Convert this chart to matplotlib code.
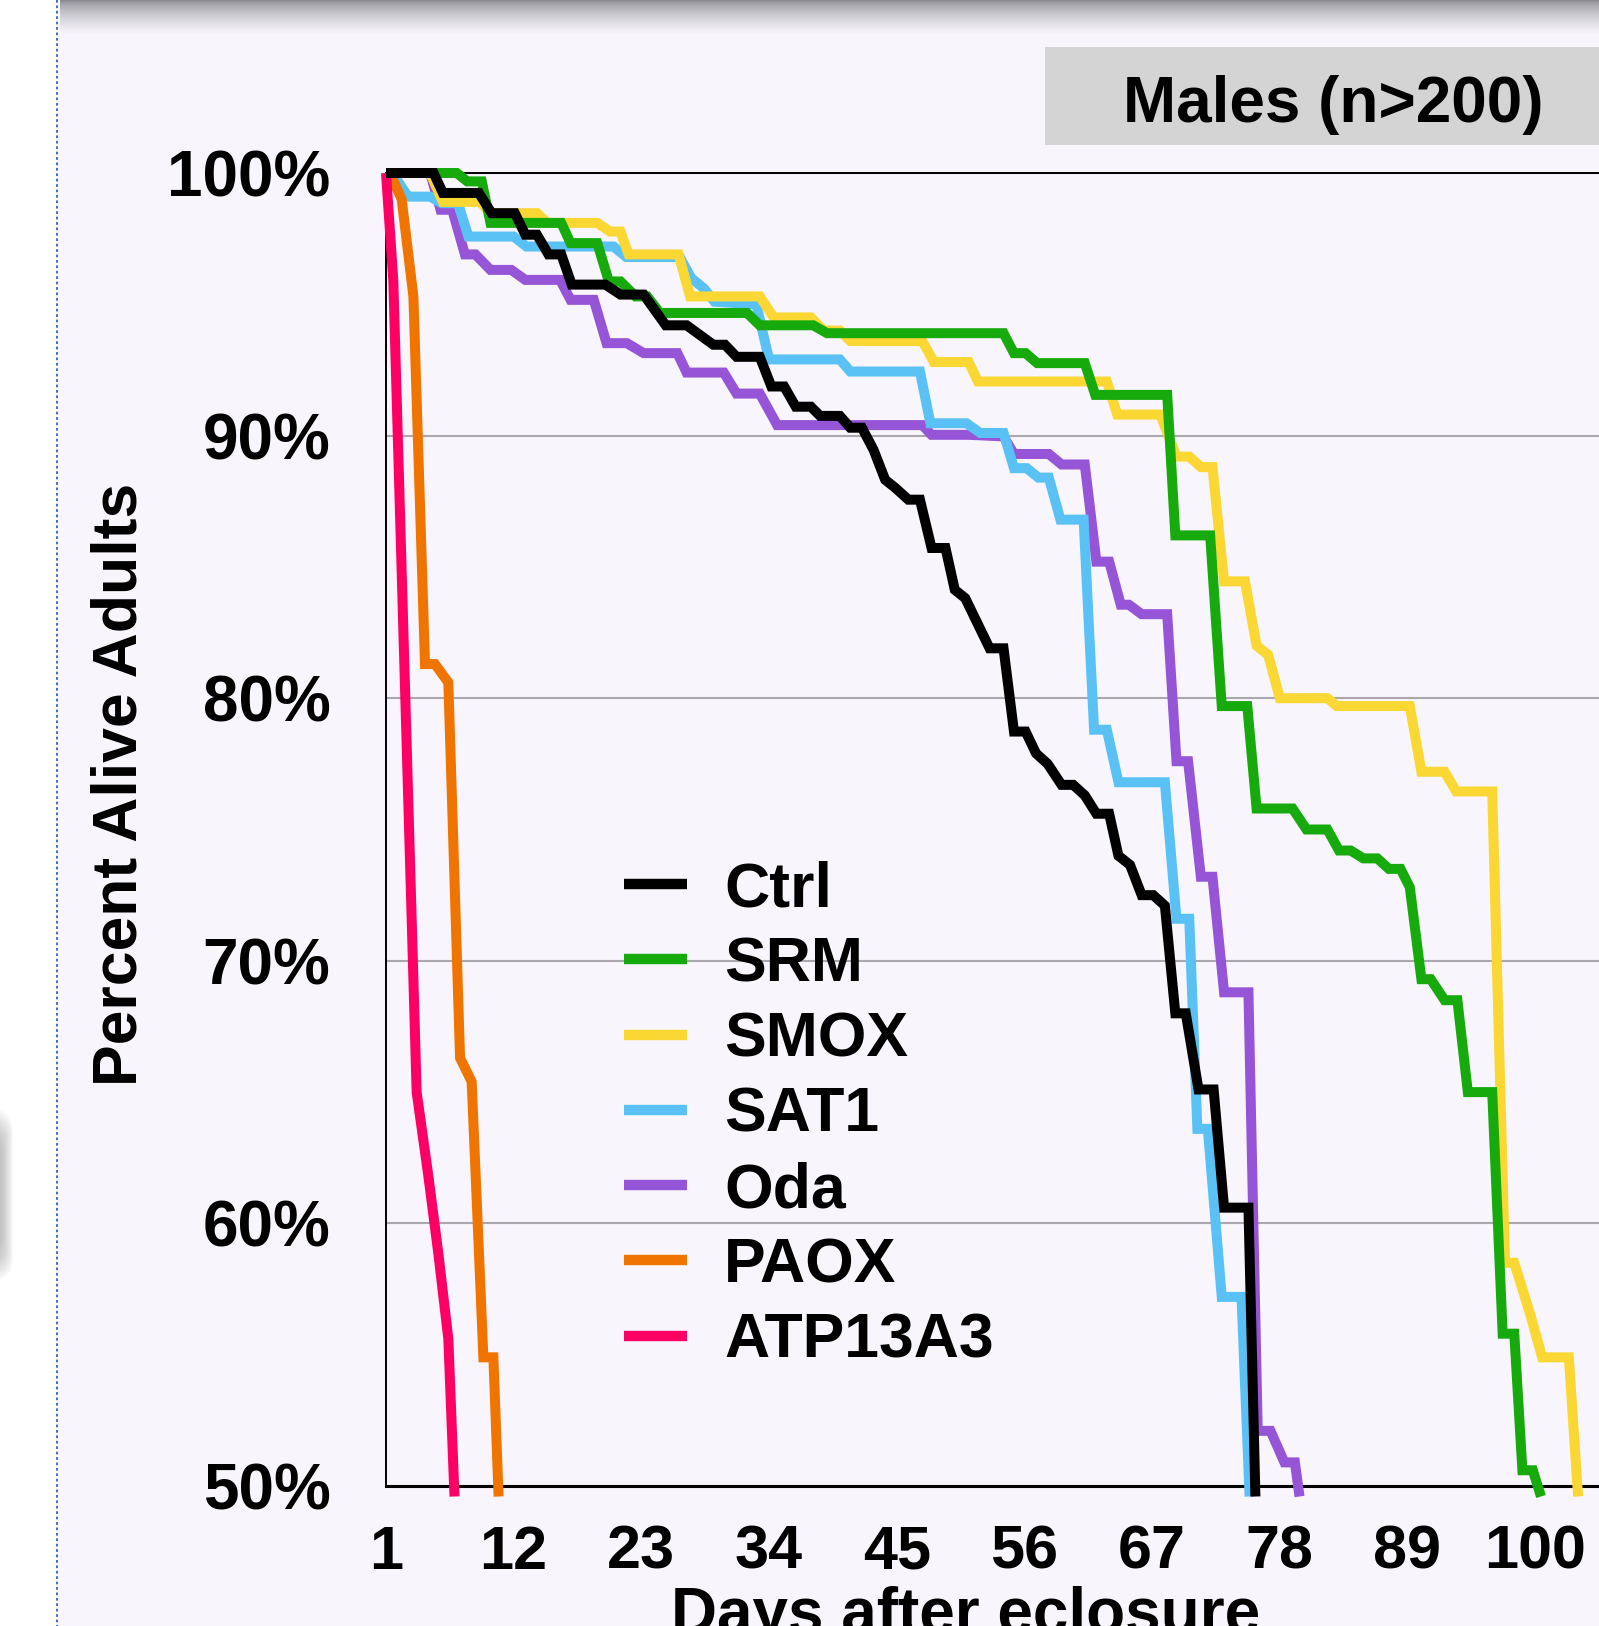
import matplotlib
matplotlib.use("Agg")
import matplotlib.pyplot as plt
import numpy as np
from matplotlib.patches import Rectangle, FancyBboxPatch
from matplotlib.lines import Line2D

plt.rcParams['font.family'] = ['Liberation Sans', 'DejaVu Sans']

# ---------------- data ----------------
series_names = ["Ctrl", "SRM", "SMOX", "SAT1", "Oda", "PAOX", "ATP13A3"]
series_colors = ["#000000", "#17AA0D", "#FAD733", "#5AC1F5", "#9654D6", "#F07400", "#FC0064"]

ctrl_days = [1, 5.1, 5.9, 9.0, 10.1, 12.1, 13.0, 14.0, 15.0, 16.1, 17.0, 19.9, 21.2, 23.2, 25.1, 26.9,
             29.2, 30.2, 31.2, 33.2, 34.2, 35.3, 36.3, 37.6, 38.4, 40.1, 41.0, 42.0, 43.0, 44.0, 44.9,
             46.0, 47.0, 48.0, 49.2, 50.0, 50.9, 51.9, 53.0, 54.2, 55.1, 56.1, 57.0, 58.0, 59.2, 60.2,
             61.2, 62.2, 63.3, 64.1, 65.1, 66.1, 67.1, 68.1, 69.0, 69.9, 71.0, 72.3, 73.2, 75.3, 75.9]
ctrl_pct = [100, 100, 99.24, 99.24, 98.47, 98.47, 97.65, 97.65, 96.9, 96.9, 95.75, 95.75, 95.37, 95.37,
            94.2, 94.2, 93.46, 93.46, 93.0, 93.0, 91.87, 91.87, 91.1, 91.1, 90.75, 90.75, 90.3, 90.3,
            89.46, 88.32, 88.0, 87.56, 87.56, 85.72, 85.72, 84.13, 83.81, 82.9, 81.9, 81.9, 78.73, 78.73,
            77.9, 77.5, 76.7, 76.7, 76.3, 75.6, 75.6, 74.0, 73.65, 72.5, 72.5, 72.1, 68.0, 68.0, 65.1,
            65.1, 60.6, 60.6, 49.6]

srm_days = [1, 7.1, 8.0, 9.25, 10.0, 16.1, 16.9, 19.2, 20.2, 21.2, 22.5, 23.5, 24.6, 32.1, 33.2, 37.8,
            39.0, 54.2, 55.1, 56.1, 57.1, 61.2, 62.1, 68.3, 69.0, 72.0, 73.0, 75.2, 76.0, 79.1, 80.3,
            82.1, 83.1, 84.1, 85.2, 86.4, 87.4, 88.4, 89.2, 90.2, 91.0, 92.2, 93.3, 94.2, 96.3, 97.2,
            98.2, 98.9, 99.8, 100.5]
srm_pct = [100, 100, 99.68, 99.68, 98.1, 98.1, 97.33, 97.33, 95.87, 95.87, 95.3, 95.3, 94.67, 94.67,
           94.2, 94.2, 93.9, 93.9, 93.14, 93.14, 92.76, 92.76, 91.55, 91.55, 86.2, 86.2, 79.7, 79.7,
           75.8, 75.8, 75.0, 75.0, 74.2, 74.2, 73.9, 73.9, 73.5, 73.5, 72.8, 69.3, 69.3, 68.5, 68.5,
           65.0, 65.0, 55.8, 55.8, 50.6, 50.6, 49.6]

smox_days = [1, 4.8, 5.9, 9.1, 10.0, 14.0, 14.9, 19.2, 20.3, 21.2, 21.9, 26.2, 27.2, 33.2, 34.4, 37.6,
             38.7, 40.1, 41.0, 47.2, 48.2, 51.2, 52.0, 63.1, 64.0, 67.7, 69.1, 70.2, 71.2, 72.2, 73.2,
             75.0, 76.0, 77.0, 78.0, 82.1, 82.9, 89.2, 90.2, 92.2, 93.2, 96.3, 97.4, 98.2, 99.6, 100.6,
             102.9, 103.7]
smox_pct = [100, 100, 98.9, 98.9, 98.47, 98.47, 98.1, 98.1, 97.77, 97.77, 96.9, 96.9, 95.3, 95.3, 94.5,
            94.5, 94.0, 94.0, 93.6, 93.6, 92.8, 92.8, 92.06, 92.06, 90.8, 90.8, 89.2, 89.2, 88.8, 88.8,
            84.45, 84.45, 82.0, 81.65, 80.0, 80.0, 79.7, 79.7, 77.2, 77.2, 76.45, 76.45, 58.5, 58.5,
            56.5, 54.9, 54.9, 49.6]

sat1_days = [1, 2.0, 2.9, 4.8, 5.8, 7.2, 8.1, 12.0, 13.1, 20.6, 21.7, 26.3, 27.3, 28.4, 29.3, 32.9, 34.0,
             40.1, 41.0, 47.0, 47.9, 51.0, 52.2, 54.2, 55.1, 56.2, 57.2, 58.1, 59.1, 61.1, 62.0, 63.1,
             64.1, 68.1, 69.1, 70.2, 70.9, 71.8, 73.0, 74.7, 75.4]
sat1_pct = [100, 99.7, 99.1, 99.1, 98.85, 98.85, 97.58, 97.58, 97.2, 97.2, 96.8, 96.8, 96.0, 95.6, 95.1,
            95.0, 92.9, 92.9, 92.44, 92.44, 90.47, 90.47, 90.1, 90.1, 88.76, 88.76, 88.4, 88.4, 86.8,
            86.8, 78.8, 78.8, 76.8, 76.8, 71.6, 71.6, 63.6, 63.6, 57.2, 57.2, 49.6]

oda_days = [1, 4.8, 5.7, 6.7, 7.8, 8.7, 10.0, 11.8, 13.0, 16.0, 16.9, 18.9, 20.0, 21.75, 23.2, 26.1,
            26.9, 30.1, 31.2, 33.2, 34.7, 47.2, 48.0, 51.2, 54.2, 55.1, 58.1, 59.2, 61.2, 62.2, 63.3,
            64.3, 65.0, 66.1, 68.3, 69.1, 70.1, 71.2, 72.2, 73.2, 75.3, 76.1, 77.2, 78.4, 79.3, 79.7]
oda_pct = [100, 100, 98.6, 98.6, 96.9, 96.9, 96.31, 96.31, 95.93, 95.93, 95.17, 95.17, 93.52, 93.52,
           93.14, 93.14, 92.4, 92.4, 91.6, 91.6, 90.4, 90.4, 90.03, 90.03, 89.97, 89.3, 89.3, 88.9,
           88.9, 85.2, 85.2, 83.56, 83.56, 83.2, 83.2, 77.6, 77.6, 73.2, 73.2, 68.8, 68.8, 52.1, 52.1,
           50.9, 50.9, 49.6]

paox_days = [1, 1.34, 2.35, 3.36, 4.36, 5.22, 6.37, 7.38, 8.38, 9.39, 10.25, 10.7]
paox_pct = [100, 100, 99.0, 95.3, 81.3, 81.3, 80.6, 66.3, 65.4, 54.9, 54.9, 49.6]

atp_days = [1, 1.63, 3.64, 4.65, 5.51, 6.37, 6.9]
atp_pct = [100, 95.9, 65.0, 61.8, 58.85, 55.6, 49.6]

all_days = [ctrl_days, srm_days, smox_days, sat1_days, oda_days, paox_days, atp_days]
all_pct = [ctrl_pct, srm_pct, smox_pct, sat1_pct, oda_pct, paox_pct, atp_pct]
z_orders = [10, 7, 6, 5, 4, 8, 9]

x_ticks = [1, 12, 23, 34, 45, 56, 67, 78, 89, 100]
y_ticks = [50, 60, 70, 80, 90, 100]
y_tick_labels = ["50%", "60%", "70%", "80%", "90%", "100%"]

# ---------------- figure ----------------
W, H = 1599, 1626
fig = plt.figure(figsize=(W / 100, H / 100), dpi=100)
fig.patch.set_facecolor("white")

bg = fig.add_axes([0, 0, 1, 1], zorder=-10)
bg.set_xlim(0, W)
bg.set_ylim(H, 0)
bg.axis("off")
card = "#F8F6FC"
bg.add_patch(Rectangle((57, 0), W - 57, H, facecolor=card, edgecolor="none"))
# top shadow gradient
grad = np.linspace(0, 1, 60).reshape(-1, 1)
top_rgb = np.array([0.52, 0.52, 0.55])
card_rgb = np.array(matplotlib.colors.to_rgb(card))
img = top_rgb[None, None, :] * (1 - grad[..., None] ** 0.6) + card_rgb[None, None, :] * (grad[..., None] ** 0.6)
img = np.repeat(img, 2, axis=1)
bg.imshow(img, extent=[60, W, 34, 0], aspect="auto", interpolation="bilinear", zorder=1)
# dotted page edge
bg.plot([57, 57], [0, H], color="#2F62C9", lw=1.3, ls=(0, (1.5, 1.5)), zorder=2)
# blurred blob on the left
for i in range(12):
    grow = i * 2.0
    bg.add_patch(FancyBboxPatch((-40, 1130 - grow), 42 + grow * 0.5, 130 + 2 * grow,
                                boxstyle="round,pad=0,rounding_size=25",
                                facecolor="#707070", edgecolor="none", alpha=0.04, zorder=2))
# title box
bg.add_patch(Rectangle((1045, 47), W - 1045, 98, facecolor="#D4D4D4", edgecolor="none", zorder=2))
bg.text(1333, 122, "Males (n>200)", ha="center", va="baseline", fontsize=46,
        fontweight="bold", color="black", zorder=3)
# axis labels
bg.text(137, 784, "Percent Alive Adults", rotation=90, rotation_mode="anchor",
        ha="center", va="baseline", fontsize=45, fontweight="bold", zorder=3)
bg.text(966, 1633, "Days after eclosure", ha="center", va="baseline", fontsize=46,
        fontweight="bold", zorder=3)

# ---------------- main axes ----------------
ax = fig.add_axes([386 / W, (H - 1486) / H, (W - 386) / W, (1486 - 173) / H])
ax.patch.set_alpha(0)
ax.set_xlim(1, 105.5)
ax.set_ylim(50, 100)

for d, p, c, n, z in zip(all_days, all_pct, series_colors, series_names, z_orders):
    ax.plot(d, p, color=c, lw=7.2, solid_joinstyle="miter", solid_capstyle="butt",
            zorder=z, clip_on=False, label=n)

ax.set_yticks(y_ticks)
ax.set_yticklabels(y_tick_labels)
ax.set_xticks(x_ticks)
ax.set_xticklabels([str(t) for t in x_ticks])
ax.tick_params(axis="y", length=0, pad=40, labelsize=46)
ax.tick_params(axis="x", length=0, pad=28, labelsize=44)
for lab in ax.get_xticklabels() + ax.get_yticklabels():
    lab.set_fontweight("bold")

ax.grid(axis="y", color="#AAA8AE", lw=1.5, zorder=0)
ax.set_axisbelow(True)
ax.spines["right"].set_visible(False)
ax.spines["top"].set_linewidth(1.4)
ax.spines["left"].set_linewidth(1.4)
ax.spines["bottom"].set_linewidth(2.2)

handles = [Line2D([0], [0], color=c, lw=7.5, solid_capstyle="butt") for c in series_colors]
leg = ax.legend(handles, series_names, loc="upper left", bbox_to_anchor=(624 / W, 1 - 860 / H),
                bbox_transform=fig.transFigure, frameon=False, borderpad=0, borderaxespad=0,
                handlelength=1.0, handletextpad=0.6, labelspacing=0.26,
                prop={"size": 45, "weight": "bold"})
leg.set_zorder(20)

fig.savefig("out.png", dpi=100, facecolor=fig.get_facecolor())
